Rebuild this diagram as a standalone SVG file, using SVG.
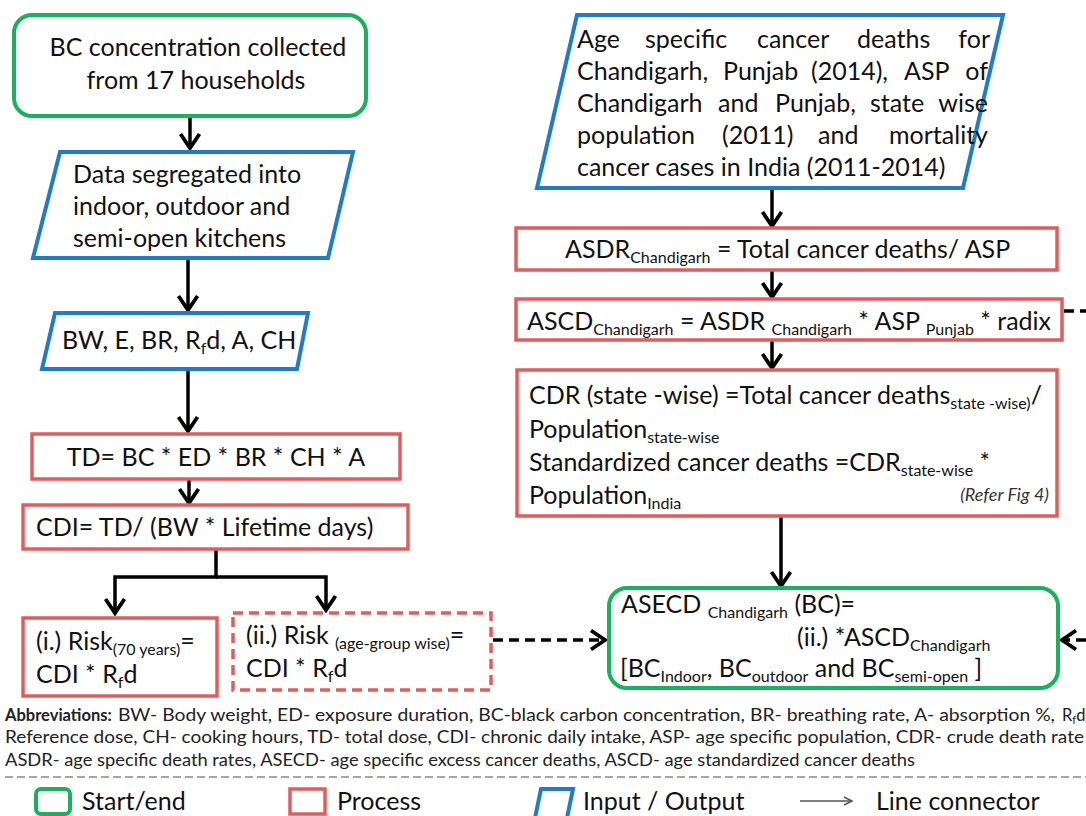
<svg xmlns="http://www.w3.org/2000/svg" width="1086" height="816" viewBox="0 0 1086 816">
<defs>
<style>
text { font-family: Lato, "Open Sans", "Liberation Sans", sans-serif; fill: #111; }
.t { font-size: 25px; }
.s { font-size: 16px; }
.it { font-size: 18px; font-style: italic; fill: #333; }
.green { fill: #fff; stroke: #17b35c; stroke-width: 4; }
.blue { fill: #fff; stroke: #1f7cc8; stroke-width: 4; }
.red { fill: #fff; stroke: #e35b5b; stroke-width: 3.5; }
.conn { fill: none; stroke: #000; stroke-width: 3.5; }
.dash { stroke-dasharray: 10 6; }
.abbr { font-size: 16.5px; fill: #222; }
.leg { font-size: 25px; }
</style>
<marker id="ah" viewBox="-16 -11 18 22" markerWidth="18" markerHeight="22" refX="0" refY="0" orient="auto" markerUnits="userSpaceOnUse" overflow="visible">
<path d="M-14,-9.5 L0,0 L-14,9.5" fill="none" stroke="#000" stroke-width="3.8"/>
</marker>
<marker id="ahs" viewBox="-10 -6 12 12" markerWidth="12" markerHeight="12" refX="0" refY="0" orient="auto" markerUnits="userSpaceOnUse" overflow="visible">
<path d="M-8,-4 L0,0 L-8,4" fill="none" stroke="#555" stroke-width="1.5"/>
</marker>
</defs>
<rect width="1086" height="816" fill="#fff"/>

<g id="connectors">
<path class="conn" d="M190,116 V148" marker-end="url(#ah)"/>
<path class="conn" d="M188,258 V310" marker-end="url(#ah)"/>
<path class="conn" d="M188,369 V431" marker-end="url(#ah)"/>
<path class="conn" d="M189,479 V503" marker-end="url(#ah)"/>
<path class="conn" d="M216,549 V577 H115 V613" marker-end="url(#ah)"/>
<path class="conn" d="M216,577 H326 V610" marker-end="url(#ah)"/>
<path class="conn dash" d="M493,640 H605" marker-end="url(#ah)"/>
<path class="conn" d="M772,188 V226" marker-end="url(#ah)"/>
<path class="conn" d="M772,270 V297" marker-end="url(#ah)"/>
<path class="conn" d="M772,340 V368" marker-end="url(#ah)"/>
<path class="conn" d="M781,516 V586" marker-end="url(#ah)"/>
<path class="conn dash" d="M1064,311 H1086"/>
<path class="conn dash" d="M1086,640 H1062" marker-end="url(#ah)"/>
</g>

<g id="start">
<rect class="green" x="14" y="15" width="352" height="101" rx="18"/>
<text class="t" x="198" y="56" text-anchor="middle">BC concentration collected</text>
<text class="t" x="196" y="89" text-anchor="middle">from 17 households</text>
</g>

<g id="segregate">
<polygon class="blue" points="60,152 353,152 328,258 33,258"/>
<text class="t" x="73" y="183">Data segregated into</text>
<text class="t" x="73" y="215">indoor, outdoor and</text>
<text class="t" x="73" y="247">semi-open kitchens</text>
</g>

<g id="params">
<polygon class="blue" points="55,313 308,313 297,369 42,369"/>
<text class="t" x="62" y="349">BW, E, BR, R<tspan class="s" dy="5">f</tspan><tspan dy="-5">d, A, CH</tspan></text>
</g>

<g id="td">
<rect class="red" x="32" y="434" width="368" height="45"/>
<text class="t" x="216" y="466" text-anchor="middle">TD= BC * ED * BR * CH * A</text>
</g>

<g id="cdi">
<rect class="red" x="23" y="505" width="385" height="44"/>
<text class="t" x="36" y="536">CDI= TD/ (BW * Lifetime days)</text>
</g>

<g id="risk1">
<rect class="red" x="23" y="618" width="194" height="78"/>
<text class="t" x="36" y="650">(i.) Risk<tspan class="s" dy="5">(70 years)</tspan><tspan dy="-5">=</tspan></text>
<text class="t" x="36" y="683">CDI * R<tspan class="s" dy="5">f</tspan><tspan dy="-5">d</tspan></text>
</g>

<g id="risk2">
<rect class="red dash" x="233" y="613" width="258" height="77"/>
<text class="t" x="246" y="644">(ii.) Risk <tspan class="s" dy="5">(age-group wise)</tspan><tspan dy="-5">=</tspan></text>
<text class="t" x="246" y="677">CDI * R<tspan class="s" dy="5">f</tspan><tspan dy="-5">d</tspan></text>
</g>

<g id="input">
<polygon class="blue" points="577,15 1003,15 963,188 537,188"/>
<text class="t" y="48"><tspan x="577">Age</tspan><tspan x="645">specific</tspan><tspan x="757">cancer</tspan><tspan x="857">deaths</tspan><tspan x="990" text-anchor="end">for</tspan></text>
<text class="t" y="80"><tspan x="577">Chandigarh,</tspan><tspan x="723">Punjab</tspan><tspan x="811">(2014),</tspan><tspan x="904">ASP</tspan><tspan x="988" text-anchor="end">of</tspan></text>
<text class="t" y="112"><tspan x="577">Chandigarh</tspan><tspan x="718">and</tspan><tspan x="775">Punjab,</tspan><tspan x="870">state</tspan><tspan x="988" text-anchor="end">wise</tspan></text>
<text class="t" y="144"><tspan x="577">population</tspan><tspan x="722">(2011)</tspan><tspan x="818">and</tspan><tspan x="988" text-anchor="end">mortality</tspan></text>
<text class="t" x="577" y="176">cancer cases in India (2011-2014)</text>
</g>

<g id="asdr">
<rect class="red" x="516" y="228" width="541" height="42"/>
<text class="t" x="565" y="258">ASDR<tspan class="s" dy="5">Chandigarh</tspan><tspan dy="-5"> = Total cancer deaths/ ASP</tspan></text>
</g>

<g id="ascd">
<rect class="red" x="516" y="299" width="546" height="41"/>
<text class="t" x="527" y="330">ASCD<tspan class="s" dy="5">Chandigarh</tspan><tspan dy="-5"> = ASDR </tspan><tspan class="s" dy="5">Chandigarh</tspan><tspan dy="-5"> * ASP </tspan><tspan class="s" dy="5">Punjab</tspan><tspan dy="-5"> * radix</tspan></text>
</g>

<g id="cdr">
<rect class="red" x="517" y="370" width="540" height="146"/>
<text class="t" x="529" y="404">CDR (state -wise) =Total cancer deaths<tspan class="s" dy="5">state -wise)</tspan><tspan dy="-5">/</tspan></text>
<text class="t" x="529" y="438">Population<tspan class="s" dy="5">state-wise</tspan></text>
<text class="t" x="529" y="471">Standardized cancer deaths =CDR<tspan class="s" dy="5">state-wise</tspan><tspan dy="-5"> *</tspan></text>
<text class="t" x="529" y="504">Population<tspan class="s" dy="5">India</tspan></text>
<text class="it" x="1049" y="501" text-anchor="end">(Refer Fig 4)</text>
</g>

<g id="end">
<rect class="green" x="609" y="588" width="449" height="100" rx="18"/>
<text class="t" x="621" y="613">ASECD <tspan class="s" dy="5">Chandigarh</tspan><tspan dy="-5"> (BC)=</tspan></text>
<text class="t" x="797" y="646">(ii.) *ASCD<tspan class="s" dy="5">Chandigarh</tspan></text>
<text class="t" x="620" y="677">[BC<tspan class="s" dy="5">Indoor</tspan><tspan dy="-5">, BC</tspan><tspan class="s" dy="5">outdoor</tspan><tspan dy="-5"> and BC</tspan><tspan class="s" dy="5">semi-open</tspan><tspan dy="-5"> ]</tspan></text>
</g>

<g id="abbreviations">
<text class="abbr" x="5" y="721" font-weight="bold">Abbreviations:</text>
<text class="abbr" x="118" y="721" textLength="937" lengthAdjust="spacingAndGlyphs">BW- Body weight, ED- exposure duration,  BC-black carbon concentration, BR- breathing rate, A- absorption %,</text>
<text class="abbr" x="1062" y="721">R<tspan font-size="11" dy="3">f</tspan><tspan dy="-3">d</tspan></text>
<text class="abbr" x="5" y="743" textLength="1079" lengthAdjust="spacingAndGlyphs">Reference dose, CH- cooking hours, TD- total dose, CDI- chronic daily intake, ASP- age specific population, CDR- crude death rate</text>
<text class="abbr" x="5" y="766" textLength="910" lengthAdjust="spacingAndGlyphs">ASDR- age specific death rates, ASECD- age specific excess cancer deaths, ASCD- age standardized cancer deaths</text>
<line x1="5" y1="777" x2="1086" y2="777" stroke="#888" stroke-width="1.5" stroke-dasharray="8 4"/>
</g>

<g id="legend">
<rect x="36" y="789" width="34" height="25" rx="5" fill="#fff" stroke="#17b35c" stroke-width="4"/>
<text class="leg" x="82" y="810">Start/end</text>
<rect x="290" y="789" width="35" height="25" fill="#fff" stroke="#e35b5b" stroke-width="3.5"/>
<text class="leg" x="337" y="810">Process</text>
<polygon points="541,789 573,789 567,818 535,818" fill="#fff" stroke="#1f7cc8" stroke-width="4"/>
<text class="leg" x="583" y="810">Input / Output</text>
<path d="M800,801 H852" fill="none" stroke="#555" stroke-width="1.5" marker-end="url(#ahs)"/>
<text class="leg" x="876" y="810">Line connector</text>
</g>
</svg>
